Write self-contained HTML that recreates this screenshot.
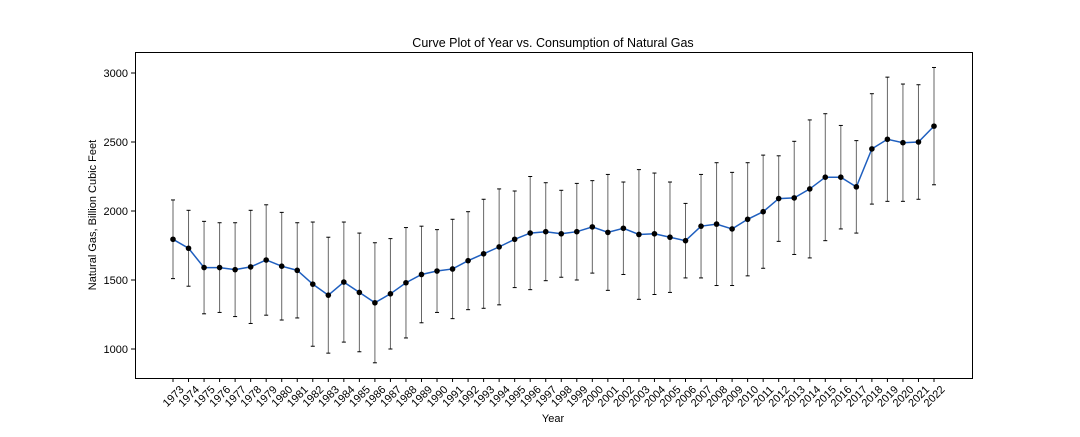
<!DOCTYPE html>
<html><head><meta charset="utf-8"><style>
body{margin:0;background:#fff;width:1080px;height:432px;overflow:hidden}
svg{font-family:"Liberation Sans",sans-serif}
</style></head><body>
<svg id="chart" width="1080" height="432">
<text x="553" y="47" text-anchor="middle" font-size="12.5">Curve Plot of Year vs. Consumption of Natural Gas</text>
<g id="plot"></g>
<rect x="135.5" y="52.5" width="837" height="326" fill="none" stroke="#000" stroke-width="1"/>
<text x="553" y="422" text-anchor="middle" font-size="11">Year</text>
<text transform="translate(96,215) rotate(-90)" text-anchor="middle" font-size="11">Natural Gas, Billion Cubic Feet</text>
</svg>
<script>
const years=[1973,1974,1975,1976,1977,1978,1979,1980,1981,1982,1983,1984,1985,1986,1987,1988,1989,1990,1991,1992,1993,1994,1995,1996,1997,1998,1999,2000,2001,2002,2003,2004,2005,2006,2007,2008,2009,2010,2011,2012,2013,2014,2015,2016,2017,2018,2019,2020,2021,2022];
const values=[1795,1730,1590,1590,1575,1595,1645,1600,1570,1470,1390,1485,1410,1335,1400,1480,1540,1565,1580,1640,1690,1740,1795,1840,1850,1835,1850,1885,1845,1875,1830,1835,1810,1785,1890,1905,1870,1940,1995,2090,2095,2160,2245,2245,2175,2450,2520,2495,2500,2615];
const errors=[285,275,335,325,340,410,400,390,345,450,420,435,430,435,400,400,350,300,360,355,395,420,350,410,355,315,350,335,420,335,470,440,400,270,375,445,410,410,410,310,410,500,460,375,335,400,450,425,415,425];
const yTicks=[1000,1500,2000,2500,3000];
const NS="http://www.w3.org/2000/svg";
const g=document.getElementById('plot');
const xS=i=>173+i*(934-173)/(years.length-1);
const yS=v=>349-(v-1000)*138/1000;
function mk(t,a,p){const e=document.createElementNS(NS,t);for(const k in a)e.setAttribute(k,a[k]);(p||g).appendChild(e);return e;}
yTicks.forEach(t=>{
 const y=yS(t);
 const l=mk('line',{x1:131,x2:135,y1:y,y2:y,stroke:'#000'});
 
 
 const tx=mk('text',{x:128,y:y+4,'text-anchor':'end','font-size':11});tx.textContent=t;
 
 
});
years.forEach((yr,i)=>{
 const x=xS(i);
 const l=mk('line',{x1:x,x2:x,y1:378,y2:382,stroke:'#000'});
 
 
 const tx=mk('text',{x:0,y:4,'font-size':11,'text-anchor':'middle',transform:`translate(${x},${396}) rotate(-45)`});tx.textContent=yr;
 
 
 const hi=yS(values[i]+errors[i]),lo=yS(values[i]-errors[i]);
 const eb=mk('g',{stroke:'#666','stroke-width':1});
 
 
 mk('line',{x1:x,x2:x,y1:hi,y2:lo},eb);
 mk('line',{x1:x-2,x2:x+2,y1:hi,y2:hi,stroke:'#000'},eb);
 mk('line',{x1:x-2,x2:x+2,y1:lo,y2:lo,stroke:'#000'},eb);
});
const line=mk('polyline',{points:values.map((v,i)=>xS(i)+','+yS(v)).join(' '),fill:'none',stroke:'#1f5fbf','stroke-width':1.5});


values.forEach((v,i)=>{
 const c=mk('circle',{cx:xS(i),cy:yS(v),r:2.8,fill:'#000'});
 
 
});
</script>
</body></html>
